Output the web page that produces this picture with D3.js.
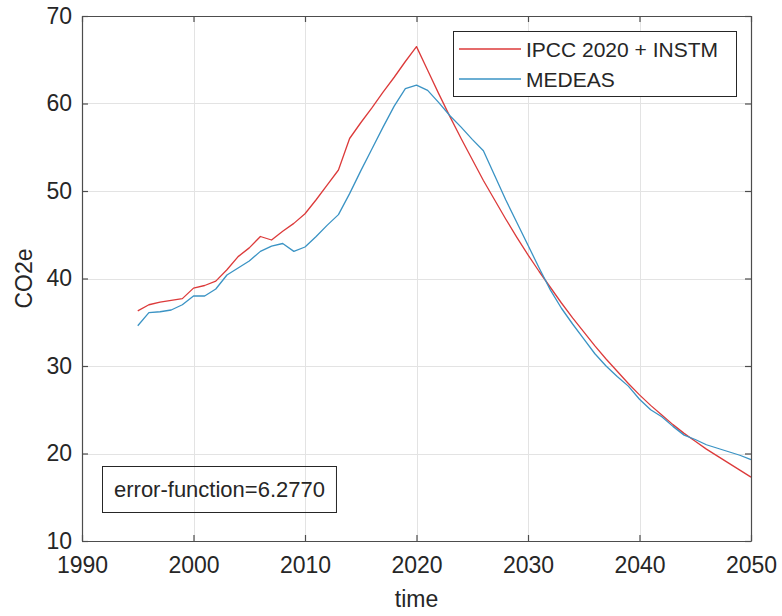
<!DOCTYPE html>
<html><head><meta charset="utf-8">
<script src="https://cdn.jsdelivr.net/npm/d3@7"></script>
<style>
body{margin:0;background:#fff}
svg{display:block}
text{font-family:"Liberation Sans",Arial,Helvetica,sans-serif;fill:#262626}
</style>
</head><body>
<svg id="c" width="782" height="616"></svg>
<script>
const years = [1995,1996,1997,1998,1999,2000,2001,2002,2003,2004,2005,2006,2007,2008,2009,2010,
  2011,2012,2013,2014,2015,2016,2017,2018,2019,2020,2021,2022,2023,2024,2025,2026,2027,2028,2029,2030,
  2031,2032,2033,2034,2035,2036,2037,2038,2039,2040,2041,2042,2043,2044,2045,2046,2047,2048,2049,2050];
const ipcc = [36.3,37.0,37.3,37.5,37.7,38.9,39.2,39.7,41.0,42.5,43.5,44.8,44.4,45.4,46.3,47.4,
  49.0,50.7,52.4,56.0,57.8,59.5,61.3,63.0,64.8,66.5,63.8,61.1,58.5,56.0,53.6,51.2,49.0,46.8,44.7,42.7,
  40.8,39.0,37.2,35.5,33.9,32.3,30.8,29.4,28.0,26.7,25.5,24.4,23.3,22.3,21.4,20.5,19.7,18.9,18.1,17.3];
const medeas = [34.6,36.1,36.2,36.4,37.0,38.0,38.0,38.8,40.4,41.2,42.0,43.1,43.7,44.0,43.1,43.6,
  44.8,46.1,47.3,49.7,52.3,54.8,57.3,59.7,61.7,62.1,61.5,60.1,58.6,57.3,55.9,54.6,51.8,49.0,46.4,43.8,
  41.2,38.7,36.6,34.8,33.1,31.4,30.0,28.8,27.7,26.2,25.0,24.2,23.1,22.1,21.6,21.0,20.6,20.2,19.8,19.3];
const seriesNames = ["IPCC 2020 + INSTM", "MEDEAS"];
const seriesColors = ["#dc3a3a", "#3a93c4"];
const xTicks = [1990,2000,2010,2020,2030,2040,2050];
const yTicks = [10,20,30,40,50,60,70];
const xLabel = "time";
const yLabel = "CO2e";
const annotation = "error-function=6.2770";

const L = 82, R = 751, T = 16, B = 541;
const svg = d3.select("#c");
const x = d3.scaleLinear().domain([1990, 2050]).range([L, R]);
const y = d3.scaleLinear().domain([10, 70]).range([B, T]);

// grid
const grid = svg.append("g").attr("stroke", "#e3e3e3").attr("stroke-width", 1);
grid.selectAll(".gx").data(xTicks.slice(1, -1)).join("line")
  .attr("x1", d => Math.round(x(d)) + 0.5).attr("x2", d => Math.round(x(d)) + 0.5)
  .attr("y1", T).attr("y2", B);
grid.selectAll(".gy").data(yTicks.slice(1, -1)).join("line")
  .attr("y1", d => Math.round(y(d)) + 0.5).attr("y2", d => Math.round(y(d)) + 0.5)
  .attr("x1", L).attr("x2", R);

// lines
const line = d3.line().x((d, i) => x(years[i])).y(d => y(d));
[ipcc, medeas].forEach((s, k) => {
  svg.append("path").datum(s).attr("fill", "none")
    .attr("stroke", seriesColors[k]).attr("stroke-width", 1.3)
    .attr("stroke-linejoin", "round").attr("d", line);
});

// axes
const fs = 23;
function styleAxis(g, hideText) {
  g.select(".domain").attr("stroke", "#4d4d4d").attr("stroke-width", 1.2);
  g.selectAll(".tick line").attr("stroke", "#4d4d4d").attr("stroke-width", 1.2);
  g.selectAll(".tick text").attr("font-size", fs).attr("fill", "#262626")
    .attr("font-family", '"Liberation Sans",Arial,sans-serif');
  if (hideText) g.selectAll(".tick text").remove();
}
svg.append("g").attr("transform", `translate(0,${B})`)
  .call(d3.axisBottom(x).tickValues(xTicks).tickFormat(d3.format("d")).tickSize(-6).tickSizeOuter(0).tickPadding(16))
  .call(g => styleAxis(g, false));
svg.append("g").attr("transform", `translate(0,${T})`)
  .call(d3.axisTop(x).tickValues(xTicks).tickSize(-6).tickSizeOuter(0))
  .call(g => styleAxis(g, true));
svg.append("g").attr("transform", `translate(${L},0)`)
  .call(d3.axisLeft(y).tickValues(yTicks).tickSize(-6).tickSizeOuter(0).tickPadding(10))
  .call(g => styleAxis(g, false));
svg.append("g").attr("transform", `translate(${R},0)`)
  .call(d3.axisRight(y).tickValues(yTicks).tickSize(-6).tickSizeOuter(0))
  .call(g => styleAxis(g, true));
svg.selectAll(".tick text").attr("font-size", fs);

// axis labels
svg.append("text").attr("x", (L + R) / 2).attr("y", 607).attr("text-anchor", "middle")
  .attr("font-size", 23).text(xLabel);
svg.append("text").attr("transform", `translate(32,${(T + B) / 2}) rotate(-90)`)
  .attr("text-anchor", "middle").attr("font-size", 23).text(yLabel);

// legend
const lg = svg.append("g");
lg.append("rect").attr("x", 453.5).attr("y", 31.5).attr("width", 283).attr("height", 65)
  .attr("fill", "#fff").attr("stroke", "#262626").attr("stroke-width", 1);
seriesNames.forEach((n, k) => {
  const yy = 49 + k * 30;
  lg.append("line").attr("x1", 459).attr("x2", 521).attr("y1", yy).attr("y2", yy)
    .attr("stroke", seriesColors[k]).attr("stroke-width", 1.3);
  lg.append("text").attr("x", 526).attr("y", yy + 8).attr("font-size", 21).attr("fill", "#000").text(n);
});

// annotation box (no fill, like a MATLAB textbox)
const ab = svg.append("g");
const at = ab.append("text").attr("x", 114).attr("y", 497).attr("font-size", 22).attr("fill", "#000").text(annotation);
const w = at.node().getComputedTextLength();
ab.insert("rect", "text").attr("x", 102.5).attr("y", 466.5).attr("width", w + 23).attr("height", 46)
  .attr("fill", "none").attr("stroke", "#262626").attr("stroke-width", 1);
</script>
</body></html>
